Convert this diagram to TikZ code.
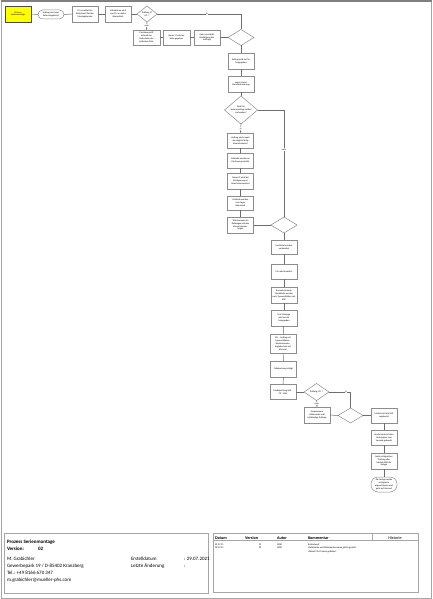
\documentclass[tikz,border=0pt]{standalone}
\usepackage{fontspec}
\setmainfont{Carlito}
\usetikzlibrary{shapes.geometric,arrows.meta}
\definecolor{boxgray}{HTML}{8C8C8C}
\definecolor{linegray}{HTML}{6E6E6E}
\definecolor{framegray}{HTML}{A6A6A6}
\definecolor{startyellow}{HTML}{FFFF00}
\begin{document}
\begin{tikzpicture}[x=1pt,y=-1pt,
  every node/.style={inner sep=0pt,outer sep=0pt},
  tiny/.style={font=\fontsize{2.3}{2.9}\selectfont},
  pbox/.style={tiny,draw=boxgray,fill=white,line width=0.5pt,minimum width=26pt,minimum height=15pt,align=center},
  startbox/.style={pbox,fill=startyellow,draw=black!70},
  termbox/.style={pbox,rounded corners=4.5pt,minimum height=9pt},
  endbox/.style={pbox,rounded corners=7pt},
  dec/.style={tiny,draw=boxgray,fill=white,line width=0.5pt,shape=diamond,align=center},
  conn/.style={draw=linegray,line width=0.5pt},
  arr/.style={conn,-{Stealth[length=2pt,width=1.6pt]}},
  lbl/.style={tiny,fill=white,inner sep=0.3pt},
  foot/.style={font=\fontsize{5}{6}\selectfont,anchor=base west},
  histtxt/.style={font=\fontsize{2.4}{3}\selectfont,anchor=base west},
  histhead/.style={font=\fontsize{4.2}{5}\selectfont\bfseries,anchor=base west}
]
\useasboundingbox (0,0) rectangle (433,599);
\fill[white] (0,0) rectangle (433,599);
% page frame
\draw[framegray,line width=0.6pt] (1,598) -- (1,1) -- (431.5,1) -- (431.5,598) -- cycle;
\draw[gray,line width=1.4pt] (0.5,0.9) -- (432,0.9);

% ---------- top row
\node[startbox,minimum height=16pt] (start) at (18,14) {Prozess\\Serienmontage};
\node[termbox] (s1) at (51,14.5) {Auftrag wird vom\\Sales eingebucht};
\node[pbox,minimum height=16pt] (b1) at (85,14) {CS+ ermittelt im\\kritischen Pfad den\\Montagetermin};
\node[pbox,minimum height=16pt] (b2) at (118,14) {Lieferdatum wird\\von CS+ an Sales\\übermittelt};
\node[dec,minimum width=20pt,minimum height=16pt] (d1) at (147,14) {Prüfung LT\\i.O. ?};

% ---------- second row
\node[pbox,minimum width=27pt] (b3) at (146.5,37.5) {Purchase prüft\\anhand der\\Lieferdaten der\\kritischen Teile};
\node[pbox,minimum width=27pt] (b4) at (176.5,37.5) {Neuer LT wird an\\Sales gegeben};
\node[pbox] (b5) at (207,37.5) {Sales verschickt\\Bestätigung des\\Auftrags};
\node[dec,minimum width=26pt,minimum height=16pt] (d2) at (241,37.5) {};

% ---------- column 1
\node[pbox,minimum height=16pt] (b6) at (241,61) {Auftrag wird an CS+\\freigegeben};
\node[pbox,minimum height=16pt] (b7) at (241,84) {Lager startet\\Kommissionierung};
\node[dec,minimum width=33pt,minimum height=20pt] (d3) at (241,110) {Sind CS+\\Serienmontage Artikel\\vorhanden?};
\node[pbox] (b8) at (240.5,140.5) {Auftrag wird soweit\\als möglich fertig\\kommissioniert};
\node[pbox] (b9) at (240.5,160.5) {Fehlteile werden an\\Purchase gemeldet};
\node[pbox,minimum height=16pt] (b10) at (240.5,181) {Neuer LT wird bei\\Verzögerung an\\Sales kommuniziert};
\node[pbox,minimum height=14pt] (b11) at (240.5,203) {Fehlteile werden\\vom Lager\\übersandt};
\node[pbox,minimum height=16pt] (b12) at (240.5,225) {Teile kommen im\\Rollwagen mit den\\Kommissionier-\\bogen};
\node[dec,minimum width=26pt,minimum height=16pt] (d4) at (284,225) {};

% ---------- column 2
\node[pbox,minimum height=14pt] (b13) at (284,247) {Laufzettel werden\\vorbereitet};
\node[pbox] (b14) at (284,271.5) {CS+ wird montiert};
\node[pbox,minimum height=16pt] (b15) at (284,295) {Kommissionierte\\Modulteile werden\\nach Typenschildern mit\\SAP};
\node[pbox,minimum height=16pt] (b16) at (284,318) {Erst-Montage\\wird von AL\\freigegeben};
\node[pbox,minimum height=19pt] (b17) at (283,343.5) {CS+ - Auftrag mit\\Typenschildern -\\Kommissionier-\\begleitschein auf\\die Insel};
\node[pbox,minimum height=16pt] (b18) at (283.5,369) {Teilebuchung erfolgt};
\node[pbox,minimum height=15pt] (b19) at (283,392) {Modulprüfung SAP -\\CP - MM};
\node[dec,minimum width=25pt,minimum height=17pt] (d5) at (316.5,392) {Prüfung i.O. ?};
\node[pbox,minimum height=16pt] (b20) at (317,415) {Gemeinsame\\Fehlersuche und\\vollständige Prüfung};
\node[dec,minimum width=25pt,minimum height=15pt] (d6) at (350.5,415.5) {};

% ---------- column 3
\node[pbox] (b21) at (384,415.5) {Modul wird mit SAP\\zugebucht};
\node[pbox] (b22) at (384,437.5) {Modul wird mit dem\\Lieferpapier zum\\Versand gebracht};
\node[pbox,minimum height=16pt] (b23) at (384,461) {Nach erfolgreicher\\Prüfung aller\\Module Bild der\\Anlage};
\node[endbox,minimum height=15pt] (e1) at (384,484.5) {Die Anlage wurde\\erfolgreich\\abgeschlossen und\\geht auf Versand};

% ---------- connectors
\draw[conn] (start) -- (s1);
\draw[conn] (s1) -- (b1);
\draw[conn] (b1) -- (b2);
\draw[conn] (b2) -- (d1);
\coordinate (c1) at (241,14);
\draw[conn] (d1.east) -- (c1) -- (d2.north);
\node[lbl] at (207,14) {ja};
\draw[arr] (d1.south) -- node[lbl,pos=0.45]{nein} (b3.north);
\draw[conn] (b3) -- (b4);
\draw[conn] (b4) -- (b5);
\draw[conn] (b5) -- (d2);
\draw[conn] (d2) -- (b6);
\draw[conn] (b6) -- (b7);
\draw[conn] (b7) -- (d3);
\draw[arr] (d3.south) -- node[lbl,pos=0.5]{ja} (b8.north);
\draw[conn] (b8) -- (b9);
\draw[conn] (b9) -- (b10);
\draw[conn] (b10) -- (b11);
\draw[conn] (b11) -- (b12);
\coordinate (c3) at (284,110);
\draw[conn] (d3.east) -- (c3) -- node[lbl,pos=0.37]{nein} (d4.north);
\draw[conn] (b12) -- (d4);
\draw[conn] (d4) -- (b13);
\draw[conn] (b13) -- (b14);
\draw[conn] (b14) -- (b15);
\draw[conn] (b15) -- (b16);
\draw[conn] (b16) -- (b17);
\draw[conn] (b17) -- (b18);
\draw[conn] (b18) -- (b19);
\draw[conn] (b19) -- (d5);
\coordinate (c5) at (350.5,392);
\draw[conn] (d5.east) -- (c5) -- (d6.north);
\node[lbl] at (346,392) {ja};
\draw[arr] (d5.south) -- node[lbl,pos=0.45]{nein} (b20.north);
\draw[conn] (b20) -- (d6);
\draw[conn] (d6) -- (b21);
\draw[conn] (b21) -- (b22);
\draw[conn] (b22) -- (b23);
\draw[conn] (b23) -- (e1);

% ---------- footer left
\node[draw=framegray,line width=0.5pt,minimum width=204pt,minimum height=60pt,anchor=north west] (fl) at (4,533) {};
\node[foot,font=\fontsize{5}{6}\selectfont\bfseries] (ft1) at (7,543.5) {Prozess Serienmontage};
\node[foot,font=\fontsize{5}{6}\selectfont\bfseries] (ft2) at (7,550.5) {Version:};
\node[foot,font=\fontsize{5}{6}\selectfont\bfseries] (ft3) at (38,550.5) {02};
\node[foot] (ft4) at (7,560) {M. Grabichler};
\node[foot] (ft5) at (7,567) {Gewerbepark 19 / D-85402 Kranzberg};
\node[foot] (ft6) at (7,574) {Tel.: +49 8166 670 347};
\node[foot] (ft7) at (7,581) {m.grabichler@mueller-phs.com};
\node[foot] (ft8) at (131,560) {Erstelldatum};
\node[foot] (ft9) at (184,560) {: 29.07.2021};
\node[foot] (ft10) at (131,567) {Letzte Änderung};
\node[foot] (ft11) at (184,567) {:};

% ---------- footer right (history)
\node[draw=framegray,line width=0.5pt,minimum width=205pt,minimum height=59pt,anchor=north west] (fr) at (213,533) {};
\coordinate (hl) at (213,540.5);
\coordinate (hr) at (418,540.5);
\draw[framegray,line width=0.5pt] (hl) -- (hr);
\coordinate (vt) at (372,533);
\coordinate (vb) at (372,540.5);
\draw[framegray,line width=0.5pt] (vt) -- (vb);
\node[histhead] (h1) at (215,539) {Datum};
\node[histhead] (h2) at (245,539) {Version};
\node[histhead] (h3) at (277,539) {Autor};
\node[histhead] (h4) at (308,539) {Kommentar};
\node[font=\fontsize{4.2}{5}\selectfont,anchor=base] (h5) at (395,539) {Historie};
\node[histtxt] (r1a) at (215,545) {29.07.21};
\node[histtxt] (r1b) at (259,545) {01};
\node[histtxt] (r1c) at (277,545) {MGR};
\node[histtxt] (r1d) at (308,545) {Erstentwurf};
\node[histtxt] (r2a) at (215,548.5) {30.07.21};
\node[histtxt] (r2b) at (259,548.5) {02};
\node[histtxt] (r2c) at (277,548.5) {MGR};
\node[histtxt] (r2d) at (308,548.5) {-Dateiname und Dokumentenname gleich gesetzt};
\node[histtxt] (r2e) at (308,552) {-Ablauf CS+ Prozess geändert};
\end{tikzpicture}
\end{document}
